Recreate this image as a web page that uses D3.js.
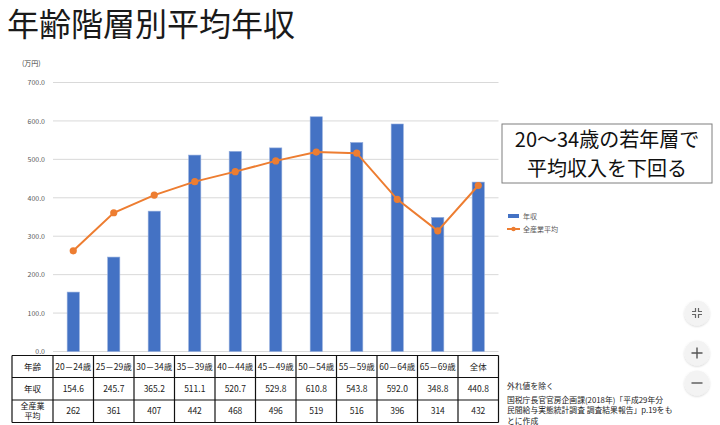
<!DOCTYPE html>
<html><head><meta charset="utf-8">
<script src="https://cdn.jsdelivr.net/npm/d3@7"></script>
<style>
html,body{margin:0;padding:0;background:#fff;}
svg{display:block;font-family:"Noto Sans CJK JP","Noto Sans",sans-serif;}
</style></head>
<body><svg id="c" width="720" height="425"></svg>
<script>
const categories = ["20－24歳","25－29歳","30－34歳","35－39歳","40－44歳","45－49歳","50－54歳","55－59歳","60－64歳","65－69歳","全体"];
const incomeValues = [154.6,245.7,365.2,511.1,520.7,529.8,610.8,543.8,592.0,348.8,440.8];
const industryAvg = [262,361,407,442,468,496,519,516,396,314,432];
const yTicks = [0,100,200,300,400,500,600,700];
const incomeLabels = ["154.6","245.7","365.2","511.1","520.7","529.8","610.8","543.8","592.0","348.8","440.8"];
const rowHeaders = ["年齢","年収","全産業\n平均"];
const seriesNames = ["年収","全産業平均"];
const calloutLines = ["20～34歳の若年層で","平均収入を下回る"];
const noteLines = ["外れ値を除く","","国税庁長官官房企画課(2018年)「平成29年分","民間給与実態統計調査 調査結果報告」p.19をも","とに作成"];

const svg = d3.select("#c");
const blue = "#4472C4", orange = "#ED7D31";

// title
svg.append("text").attr("x",7).attr("y",36).attr("font-size",32).attr("fill","#1a1a1a")
  .text("年齢階層別平均年収");

const y = d3.scaleLinear().domain([0,700]).range([351.5,82.5]);
const x = d3.scaleBand().domain(categories).range([53,498.5]).paddingInner(0.7).paddingOuter(0.35);

// grid
svg.append("g").selectAll("line").data(yTicks).join("line")
  .attr("x1",53).attr("x2",498.5).attr("y1",d=>y(d)).attr("y2",d=>y(d))
  .attr("stroke","#d9d9d9").attr("stroke-width",1);

// axis
const ax = svg.append("g").attr("transform","translate(45,0)")
  .call(d3.axisLeft(y).tickValues(yTicks).tickFormat(d3.format(".1f")).tickSize(0).tickPadding(0));
ax.select(".domain").remove();
ax.selectAll("text").attr("font-size",7).attr("fill","#595959").attr("font-family","Noto Sans CJK JP");

svg.append("text").attr("x",22).attr("y",66).attr("font-size",7).attr("fill","#404040").text("(万円)");

// bars
svg.append("g").selectAll("rect").data(categories).join("rect")
  .attr("x",d=>x(d)).attr("width",x.bandwidth())
  .attr("y",(d,i)=>y(incomeValues[i])).attr("height",(d,i)=>y(0)-y(incomeValues[i]))
  .attr("fill",blue).attr("stroke","#8faadc").attr("stroke-width",0.6);

// line
const cx = d=>x(d)+x.bandwidth()/2;
svg.append("path").datum(categories)
  .attr("d",d3.line().x(cx).y((d,i)=>y(industryAvg[i])))
  .attr("fill","none").attr("stroke",orange).attr("stroke-width",2);
svg.append("g").selectAll("circle").data(categories).join("circle")
  .attr("cx",cx).attr("cy",(d,i)=>y(industryAvg[i])).attr("r",3.6).attr("fill",orange);

// annotation box
svg.append("rect").attr("x",502).attr("y",124).attr("width",210).attr("height",59)
  .attr("fill","#fff").attr("stroke","#7f7f7f").attr("stroke-width",1);
const callout = svg.append("text").attr("text-anchor","middle").attr("font-size",20).attr("fill","#111");
calloutLines.forEach((t,i)=>callout.append("tspan").attr("x",607).attr("y",146.5+i*29.2).text(t));

// legend
svg.append("rect").attr("x",508).attr("y",214).attr("width",11).attr("height",4).attr("fill",blue);
svg.append("text").attr("x",523).attr("y",218.5).attr("font-size",7).attr("fill","#595959").text(seriesNames[0]);
svg.append("line").attr("x1",507).attr("x2",520).attr("y1",229).attr("y2",229).attr("stroke",orange).attr("stroke-width",2);
svg.append("circle").attr("cx",513.5).attr("cy",229).attr("r",2.2).attr("fill",orange);
svg.append("text").attr("x",523).attr("y",231.5).attr("font-size",7).attr("fill","#595959").text(seriesNames[1]);

// table
const rows = [355.5,377.5,400,422.5];
const tbl = svg.append("g");
const colLeft = d=>x(d)+x.bandwidth()/2-x.step()/2;
const cols = [12,53].concat(categories.slice(1).map(colLeft)).concat([498.5]);
tbl.selectAll("line.v").data(cols).join("line").attr("class","v")
  .attr("x1",d=>d).attr("x2",d=>d).attr("y1",rows[0]).attr("y2",rows[3]).attr("stroke","#111").attr("stroke-width",1.2);
tbl.selectAll("line.h").data(rows).join("line").attr("class","h")
  .attr("x1",12).attr("x2",498.5).attr("y1",d=>d).attr("y2",d=>d).attr("stroke","#111").attr("stroke-width",1.2);
const rowMid = i=>(rows[i]+rows[i+1])/2;
rowHeaders.forEach((h,i)=>{
  const parts = h.split("\n");
  parts.forEach((p,j)=>{
    tbl.append("text").attr("x",32.5).attr("y",rowMid(i)+3+(j-(parts.length-1)/2)*10)
      .attr("text-anchor","middle").attr("font-size",parts.length>1?8:8.5).attr("fill","#111").text(p);
  });
});
const tcell = (vals,row,fs)=>tbl.append("g").selectAll("text").data(categories).join("text")
  .attr("x",cx).attr("y",rowMid(row)+3).attr("text-anchor","middle").attr("font-size",fs).attr("fill","#222")
  .text((d,i)=>vals[i]);
tcell(categories,0,8.5);
tcell(incomeLabels,1,8.5);
tcell(industryAvg,2,8.5);

// notes
const noteY = [389,0,402.5,413,423.5];
noteLines.forEach((t,i)=>{ if(t) svg.append("text").attr("x",507).attr("y",noteY[i]).attr("font-size",7.8).attr("fill","#222").text(t); });

// map-like control buttons
const defs = svg.append("defs");
const f = defs.append("filter").attr("id","sh").attr("x","-50%").attr("y","-50%").attr("width","200%").attr("height","200%");
f.append("feDropShadow").attr("dx",0).attr("dy",1).attr("stdDeviation",1).attr("flood-color","#000").attr("flood-opacity",0.18);
const btnY = [313,353,383];
btnY.forEach(by=>svg.append("circle").attr("cx",697).attr("cy",by).attr("r",12.5).attr("fill","#f3f3f3").attr("filter","url(#sh)"));
// collapse icon
const ic = svg.append("g").attr("stroke","#666").attr("stroke-width",1.2).attr("fill","none");
[[-1,-1],[1,-1],[-1,1],[1,1]].forEach(([sx,sy])=>{
  ic.append("path").attr("d",`M${697+sx*1.5},${313+sy*5} V${313+sy*1.5} H${697+sx*5}`);
});
svg.append("path").attr("d","M691.5,353 H702.5 M697,347.5 V358.5").attr("stroke","#555").attr("stroke-width",1.4);
svg.append("path").attr("d","M691.5,383 H702.5").attr("stroke","#555").attr("stroke-width",1.4);
</script></body></html>
